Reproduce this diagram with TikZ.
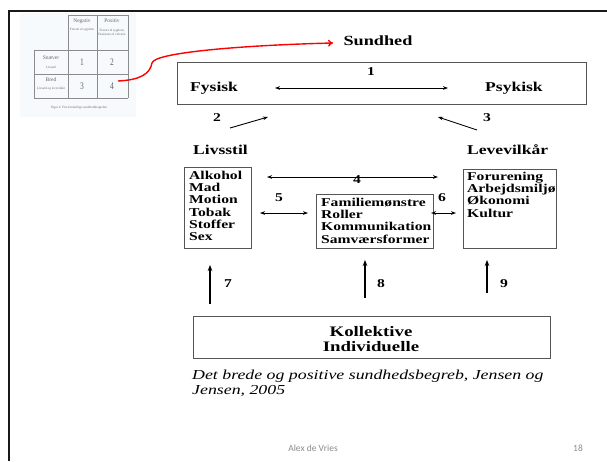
\documentclass[tikz,border=0pt]{standalone}
\usepackage{fontspec}
\setmainfont{Liberation Serif}[FakeStretch=1.3]
\newfontfamily\footfont{Carlito}
\newfontfamily\thumbfont{Liberation Serif}
\usetikzlibrary{arrows.meta}
\definecolor{boxgray}{HTML}{555555}
\definecolor{thumbbg}{HTML}{F7FAFC}
\definecolor{thumbtxt}{HTML}{666666}
\definecolor{footgray}{HTML}{8C8C8C}
\begin{document}
\begin{tikzpicture}[x=1pt,y=-1pt,
  box/.style={draw=boxgray, line width=0.9pt, inner sep=0pt, anchor=north west},
  lbl/.style={font=\bfseries\fontsize{13.5}{14}\selectfont, inner sep=0pt},
  num/.style={font=\bfseries\fontsize{12}{12}\selectfont, inner sep=0pt},
  lst/.style={font=\bfseries\fontsize{12}{12.2}\selectfont, align=left, inner sep=0pt, anchor=north west},
  arr/.style={line width=0.9pt, -{Stealth[length=5pt,width=3.6pt]}},
  darr/.style={line width=0.9pt, {Stealth[length=5pt,width=3.6pt]}-{Stealth[length=5pt,width=3.6pt]}},
  uarr/.style={line width=1.6pt, -{Stealth[length=6pt,width=4.6pt]}},
  tline/.style={draw=black!45, line width=0.5pt},
  tnum/.style={font=\thumbfont\fontsize{10}{10}\selectfont, text=thumbtxt, inner sep=0pt, xscale=0.75},
  tlab/.style={font=\thumbfont\fontsize{5.5}{6}\selectfont, text=thumbtxt, inner sep=0pt, align=center},
  tsub/.style={font=\thumbfont\fontsize{3.3}{4}\selectfont, text=thumbtxt, inner sep=0pt, align=center}
]
\useasboundingbox (0,0) rectangle (607,461);
\fill[white] (0,0) rectangle (607,461);

% slide frame
\draw[line width=2.5pt, black!90] (607,11) -- (9,11) -- (9,461);

% thumbnail table
\fill[thumbbg] (20,13) rectangle (136,117);
\draw[tline] (68,15) -- (128,15) (68,15) -- (68,98) (97,15) -- (97,98) (128,15) -- (128,98)
  (34,50) -- (128,50) (34,74) -- (128,74) (34,98) -- (128,98) (34,50) -- (34,98);
\node[tlab] (tneg) at (82,21) {Negativ};
\node[tsub] (tnegs) at (82,30) {Fravær af sygdom};
\node[tlab] (tpos) at (112,21) {Positiv};
\node[tsub] (tposs) at (112,32) {Fravær af sygdom,\\Eksistens af velvære};
\node[tlab] (tsn) at (51,58) {Snæver};
\node[tsub] (tsns) at (51,67) {Livsstil};
\node[tlab] (tbr) at (51,80) {Bred};
\node[tsub] (tbrs) at (51,89) {Livsstil og levevilkår};
\node[tnum] (t1) at (82,62) {1};
\node[tnum] (t2) at (112,62) {2};
\node[tnum] (t3) at (82,86) {3};
\node[tnum] (t4) at (112,86) {4};
\node[tsub] (tcap) at (79,108) {Figur 4. Fire forskellige sundhedsbegreber};

% red connector
\node[lbl, font=\bfseries\fontsize{14}{14}\selectfont] (sund) at (378,41) {Sundhed};
\coordinate (redstart) at (118,81);
\coordinate (redend) at (333,43);
\draw[red, line width=1.4pt, -{To[length=5pt,width=7pt]}]
  (redstart) .. controls (140,80) and (150,74) .. (152,63)
  .. controls (154,52) and (250,45) .. (redend);

% top box
\node[box, minimum width=409pt, minimum height=42pt] (top) at (177,62) {};
\node[lbl, anchor=west] (fys) at (190,88) {Fysisk};
\node[lbl, anchor=west] (psy) at (485,88) {Psykisk};
\node[num] (n1) at (371,72) {1};
\coordinate (a1l) at (275,88);
\coordinate (a1r) at (448,88);
\draw[darr] (a1l) -- (a1r);

% arrows 2 and 3
\node[num] (n2) at (217,118) {2};
\coordinate (a2s) at (230,128);
\coordinate (a2e) at (268,117);
\draw[arr] (a2s) -- (a2e);
\node[num] (n3) at (487,118) {3};
\coordinate (a3s) at (477,130);
\coordinate (a3e) at (438,117);
\draw[arr] (a3s) -- (a3e);

% labels
\node[lbl, anchor=west] (liv) at (193,150) {Livsstil};
\node[lbl, anchor=west] (lev) at (467,150) {Levevilkår};

% Livsstil box
\node[box, minimum width=67pt, minimum height=81pt] (livbox) at (184,167) {};
\node[lst] (livtxt) at (189,171) {Alkohol\\Mad\\Motion\\Tobak\\Stoffer\\Sex};

% Familie box
\node[box, minimum width=117pt, minimum height=54pt] (fambox) at (316,194) {};
\node[lst] (famtxt) at (321,198) {Familiemønstre\\Roller\\Kommunikation\\Samværsformer};

% Levevilkår box
\node[box, minimum width=93pt, minimum height=79pt] (levbox) at (463,169) {};
\node[lst] (levtxt) at (467,172) {Forurening\\Arbejdsmiljø\\Økonomi\\Kultur};

% arrow 4
\coordinate (a4l) at (267,177);
\coordinate (a4r) at (438,177);
\draw[darr] (a4l) -- (a4r);
\node[num] (n4) at (357,180) {4};

% arrow 5
\coordinate (a5l) at (260,213);
\coordinate (a5r) at (308,213);
\draw[darr] (a5l) -- (a5r);
\node[num] (n5) at (279,198) {5};

% arrow 6
\coordinate (a6l) at (431,213);
\coordinate (a6r) at (456,213);
\draw[darr] (a6l) -- (a6r);
\node[num] (n6) at (442,198) {6};

% bottom box
\node[box, minimum width=357pt, minimum height=42pt] (kolbox) at (193,316) {};
\node[font=\bfseries\fontsize{14.5}{15}\selectfont, align=center, inner sep=0pt] (koltxt) at (371,339) {Kollektive\\Individuelle};

% arrows 7 8 9
\coordinate (a7s) at (210,304);
\coordinate (a7e) at (210,265);
\draw[uarr] (a7s) -- (a7e);
\node[num] (n7) at (228,284) {7};
\coordinate (a8s) at (365,298);
\coordinate (a8e) at (365,260);
\draw[uarr] (a8s) -- (a8e);
\node[num] (n8) at (381,284) {8};
\coordinate (a9s) at (487,293);
\coordinate (a9e) at (487,260);
\draw[uarr] (a9s) -- (a9e);
\node[num] (n9) at (504,284) {9};

% caption
\node[font=\itshape\fontsize{13.7}{15}\selectfont, align=left, inner sep=0pt, anchor=north west] (cap) at (192,370)
  {Det brede og positive sundhedsbegreb, Jensen og\\Jensen, 2005};

% footer
\node[font=\footfont\fontsize{9.5}{10}\selectfont, text=footgray, inner sep=0pt] (foot) at (313,448) {Alex de Vries};
\node[font=\footfont\fontsize{9.5}{10}\selectfont, text=footgray, inner sep=0pt] (page) at (578,448) {18};
\end{tikzpicture}
\end{document}
